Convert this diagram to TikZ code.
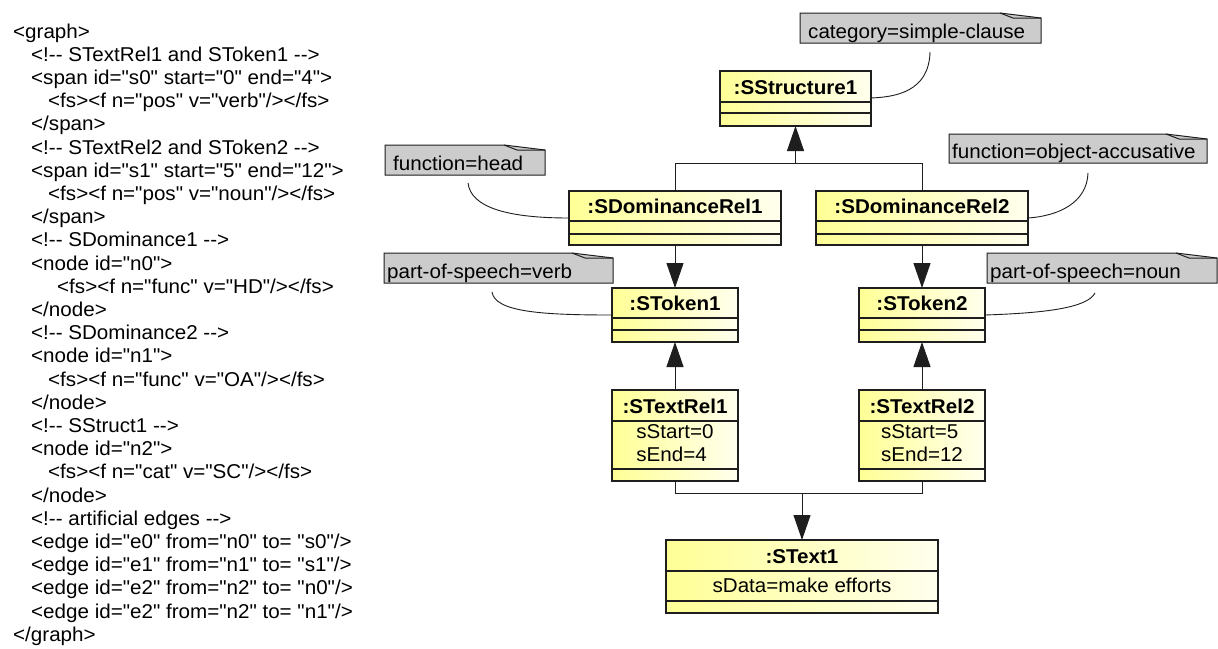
\documentclass[tikz,border=0pt]{standalone}
\usepackage{fontspec}
\setmainfont{Liberation Sans}[Ligatures=TeXOff]
\newfontfamily\dgfont{Liberation Sans}[Ligatures=TeXOff,FakeStretch=1.03]
\usetikzlibrary{arrows.meta,calc}
\definecolor{clsY}{RGB}{255,255,150}
\definecolor{clsW}{RGB}{255,255,238}
\definecolor{noteG}{RGB}{204,204,204}
\definecolor{inkC}{RGB}{30,30,30}
\tikzset{
 xmltxt/.style={anchor=base west, inner sep=0, font=\dgfont\fontsize{20}{23}\selectfont},
 clsbox/.style={draw=inkC, line width=1.2pt, left color=clsY, right color=clsW, anchor=north west, inner sep=0, outer sep=0},
 clsline/.style={draw=inkC, line width=1.2pt},
 hdrtxt/.style={anchor=base, inner sep=0, font=\dgfont\bfseries\fontsize{20}{23}\selectfont},
 bodytxt/.style={inner sep=0, align=left, font=\dgfont\fontsize{20}{23}\selectfont},
 notebox/.style={anchor=north west, inner sep=0, outer sep=0},
 notetxt/.style={anchor=base west, inner sep=0, font=\dgfont\fontsize{20}{23}\selectfont},
 wire/.style={draw=inkC, line width=1pt},
 arr/.style={wire, -{Triangle[length=25pt,width=17pt]}},
 notelink/.style={draw=inkC, line width=0.9pt},
}
\newcommand\umlcls[7]{%
 \node[clsbox, minimum width={#4-#2}, minimum height={#5-#3}] (#1) at (#2,#3) {};
 \draw[clsline] (#2,#6) -- (#4,#6);
 \draw[clsline] (#2,#7) -- (#4,#7);
}
\newcommand\umlnote[5]{%
 \node[notebox, minimum width={#4-#2}, minimum height={#5-#3}] (#1) at (#2,#3) {};
 \filldraw[fill=noteG, wire] (#1.north west) -- ($(#1.north east)+(-41,0)$) -- ($(#1.north east)+(0,5)$) -- (#1.south east) -- (#1.south west) -- cycle;
 \draw[wire] ($(#1.north east)+(-41,0)$) -- ($(#1.north east)+(-28,5)$) -- ($(#1.north east)+(0,5)$);
}
\begin{document}
\begin{tikzpicture}[x=1pt,y=-1pt]
\useasboundingbox (0,0) rectangle (1218,648);
\fill[white] (0,0) rectangle (1218,648);
% XML listing
\node[xmltxt] (x1) at (13,38) {<graph>};
\node[xmltxt] (x2) at (31,61.2) {<!-- STextRel1 and SToken1 -->};
\node[xmltxt] (x3) at (31,84.4) {<span id="s0" start="0" end="4">};
\node[xmltxt] (x4) at (48,107.6) {<fs><f n="pos" v="verb"/></fs>};
\node[xmltxt] (x5) at (31,130.8) {</span>};
\node[xmltxt] (x6) at (31,154) {<!-- STextRel2 and SToken2 -->};
\node[xmltxt] (x7) at (31,177.2) {<span id="s1" start="5" end="12">};
\node[xmltxt] (x8) at (48,200.4) {<fs><f n="pos" v="noun"/></fs>};
\node[xmltxt] (x9) at (31,223.6) {</span>};
\node[xmltxt] (x10) at (31,246.8) {<!-- SDominance1 -->};
\node[xmltxt] (x11) at (31,270) {<node id="n0">};
\node[xmltxt] (x12) at (57,293.2) {<fs><f n="func" v="HD"/></fs>};
\node[xmltxt] (x13) at (31,316.4) {</node>};
\node[xmltxt] (x14) at (31,339.6) {<!-- SDominance2 -->};
\node[xmltxt] (x15) at (31,362.8) {<node id="n1">};
\node[xmltxt] (x16) at (48,386) {<fs><f n="func" v="OA"/></fs>};
\node[xmltxt] (x17) at (31,409.2) {</node>};
\node[xmltxt] (x18) at (31,432.4) {<!-- SStruct1 -->};
\node[xmltxt] (x19) at (31,455.6) {<node id="n2">};
\node[xmltxt] (x20) at (48,478.8) {<fs><f n="cat" v="SC"/></fs>};
\node[xmltxt] (x21) at (31,502) {</node>};
\node[xmltxt] (x22) at (31,525.2) {<!-- artificial edges -->};
\node[xmltxt] (x23) at (31,548.4) {<edge id="e0" from="n0" to= "s0"/>};
\node[xmltxt] (x24) at (31,571.6) {<edge id="e1" from="n1" to= "s1"/>};
\node[xmltxt] (x25) at (31,594.8) {<edge id="e2" from="n2" to= "n0"/>};
\node[xmltxt] (x26) at (31,618) {<edge id="e2" from="n2" to= "n1"/>};
\node[xmltxt] (x27) at (13,641.2) {</graph>};
% classes
\umlcls{sstruct}{720}{71}{871}{126}{102}{113}
\umlcls{sdom1}{569}{191}{781}{245}{221}{234}
\umlcls{sdom2}{816}{191}{1028}{245}{221}{234}
\umlcls{tok1}{612}{288}{738}{342}{318}{330}
\umlcls{tok2}{859}{288}{985}{342}{318}{330}
\umlcls{trel1}{612}{390}{738}{481}{421}{469}
\umlcls{trel2}{859}{390}{985}{481}{421}{469}
\umlcls{stext}{666}{540}{938}{613}{571}{601}
\node[hdrtxt] (sstructT) at (795.5,94) {:SStructure1};
\node[hdrtxt] (sdom1T) at (675,213) {:SDominanceRel1};
\node[hdrtxt] (sdom2T) at (922,213) {:SDominanceRel2};
\node[hdrtxt] (tok1T) at (675,310) {:SToken1};
\node[hdrtxt] (tok2T) at (922,310) {:SToken2};
\node[hdrtxt] (trel1T) at (675,413) {:STextRel1};
\node[hdrtxt] (trel2T) at (922,413) {:STextRel2};
\node[hdrtxt] (stextT) at (802,563) {:SText1};
\node[bodytxt] (trel1B) at (675,443) {sStart=0\\sEnd=4};
\node[bodytxt] (trel2B) at (922,443) {sStart=5\\sEnd=12};
\node[bodytxt] (stextB) at (802,585) {sData=make efforts};
% notes
\umlnote{ncat}{800}{13}{1041}{43}
\umlnote{nhead}{385}{145}{545}{175}
\umlnote{noa}{949}{134}{1207}{163}
\umlnote{nverb}{384}{253}{613}{283}
\umlnote{nnoun}{987}{253}{1217}{283}
\node[notetxt] (ncatT) at ($(ncat.south west)+(8,-5)$) {category=simple-clause};
\node[notetxt] (nheadT) at ($(nhead.south west)+(8,-5)$) {function=head};
\node[notetxt] (noaT) at ($(noa.south west)+(3,-5)$) {function=object-accusative};
\node[notetxt] (nverbT) at ($(nverb.south west)+(3,-5)$) {part-of-speech=verb};
\node[notetxt] (nnounT) at ($(nnoun.south west)+(3,-5)$) {part-of-speech=noun};
% note links
\draw[notelink] ($(ncat.south west)+(130,9)$) .. controls +(-1,40) and +(24,-1) .. ($(sstruct.north east)+(0,27)$);
\draw[notelink] ($(nhead.south west)+(83,8)$) .. controls +(3,25) and +(-60,0) .. ($(sdom1.north west)+(0,27)$);
\draw[notelink] ($(nverb.south west)+(108,9)$) .. controls +(3,20) and +(-70,0) .. ($(tok1.north west)+(0,27)$);
\draw[notelink] ($(noa.south west)+(139,10)$) .. controls +(-1,30) and +(30,-2) .. ($(sdom2.north east)+(0,27)$);
\draw[notelink] ($(nnoun.south west)+(108,10)$) .. controls +(-8,15) and +(60,-2) .. ($(tok2.north east)+(0,27)$);
% connectors
\coordinate (j1) at (795.5,163);
\draw[wire] (sdom1.north) -- (sdom1.north |- j1) -- (sdom2.north |- j1) -- (sdom2.north);
\draw[arr] (j1) -- (sstruct.south);
\draw[arr] (sdom1.south) -- (tok1.north);
\draw[arr] (sdom2.south) -- (tok2.north);
\draw[arr] (trel1.north) -- (tok1.south);
\draw[arr] (trel2.north) -- (tok2.south);
\coordinate (j2) at (802,493);
\draw[wire] (trel1.south) -- (trel1.south |- j2) -- (trel2.south |- j2) -- (trel2.south);
\draw[arr] (j2) -- (stext.north);
\end{tikzpicture}
\end{document}
